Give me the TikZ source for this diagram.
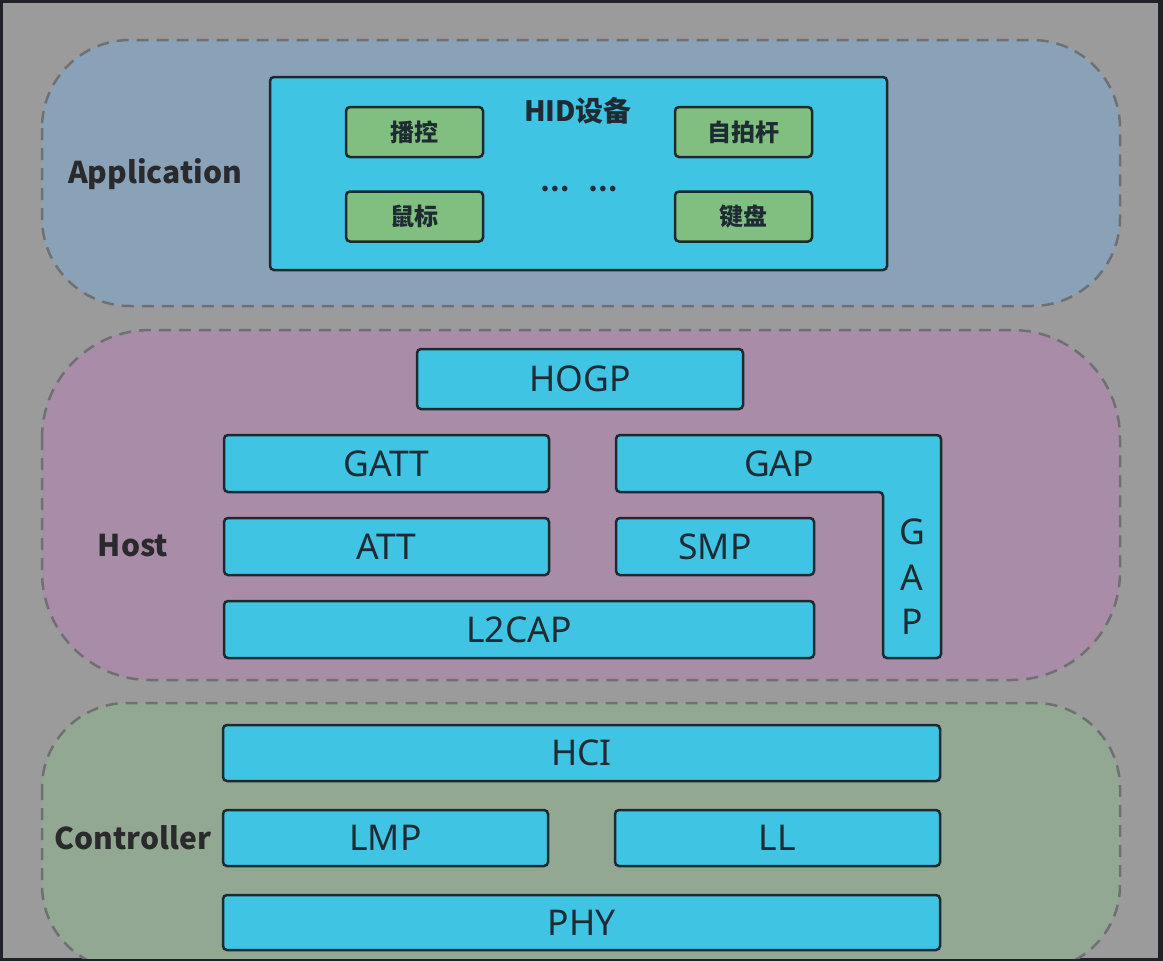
\documentclass[tikz,border=0pt]{standalone}
\usepackage{fontspec}
\setmainfont{Noto Sans}
\newfontfamily\cjk{Noto Sans CJK SC}
\definecolor{frame}{HTML}{1F2329}
\definecolor{bg}{HTML}{9B9B9B}
\definecolor{appc}{HTML}{8AA2B8}
\definecolor{hostc}{HTML}{A88CA8}
\definecolor{ctrlc}{HTML}{93A893}
\definecolor{dashc}{HTML}{6E7072}
\definecolor{cyanb}{HTML}{40C4E4}
\definecolor{edge}{HTML}{1C2A30}
\definecolor{greenb}{HTML}{80BF80}
\definecolor{txt}{HTML}{1F2B33}
\definecolor{lbl}{HTML}{2A2A2C}
\tikzset{
  region/.style={draw=dashc, line width=2.5pt, dash pattern=on 12pt off 8pt},
  blk/.style={draw=edge, line width=2.5pt, fill=cyanb, rounded corners=4pt, inner sep=0pt,
    text=txt, font=\fontsize{35.5}{40}\selectfont},
  gbox/.style={draw=edge, line width=2.5pt, fill=greenb, rounded corners=4pt, inner sep=0pt,
    minimum width=137pt, minimum height=50pt, text=txt, font=\cjk\bfseries\fontsize{24}{28}\selectfont},
  layerlbl/.style={text=lbl, font=\cjk\bfseries\fontsize{30}{36}\selectfont, inner sep=0pt},
  vlet/.style={text=txt, font=\fontsize{35.5}{40}\selectfont, inner sep=0pt}
}
\begin{document}
\begin{tikzpicture}[x=1pt,y=-1pt]
\useasboundingbox (0,0) rectangle (1163,961);
\fill[frame] (0,0) rectangle (1163,961);
\fill[bg] (3,3) rectangle (1158,958);
% regions
\begin{scope}
\clip (3,3) rectangle (1158,958);
\filldraw[region, fill=appc, rounded corners=88pt] (42,40) rectangle (1120,306);
\filldraw[region, fill=hostc, rounded corners=108pt] (42,330) rectangle (1120,680);
\filldraw[region, fill=ctrlc, rounded corners=85pt] (42,703) rectangle (1120,970);
\end{scope}
% layer labels
\node[layerlbl] (lapp) at (155,174) {Application};
\node[layerlbl] (lhost) at (133,546) {Host};
\node[layerlbl] (lctrl) at (133,838) {Controller};
% Application
\node[blk, minimum width=617pt, minimum height=193pt] (hid) at (578.5,173.5) {};
\node[text=txt, font=\cjk\bfseries\fontsize{28}{32}\selectfont, inner sep=0pt] (hidt) at (578,111) {HID设备};
\node[gbox] (bokong) at (414.5,132) {播控};
\node[gbox] (shubiao) at (414.5,216.5) {鼠标};
\node[gbox] (zipai) at (743.5,132) {自拍杆};
\node[gbox] (jianpan) at (743.5,216.5) {键盘};
\node[text=txt, font=\cjk\bfseries\fontsize{26}{30}\selectfont, inner sep=0pt] (dots) at (579,189) {…\hspace{0.7em}…};
% Host
\node[blk, minimum width=326pt, minimum height=60pt] (hogp) at (580,379) {HOGP};
\node[blk, minimum width=325pt, minimum height=57pt] (gatt) at (386.5,463.5) {GATT};
\filldraw[draw=edge, line width=2.5pt, fill=cyanb, rounded corners=4pt]
  (616,435) -- (941,435) -- (941,658) -- (883,658) -- (883,492) -- (616,492) -- cycle;
\node[vlet] (gapt) at (779,463.5) {GAP};
\node[vlet] (gapg) at (912,532) {G};
\node[vlet] (gapa) at (912,578) {A};
\node[vlet] (gapp) at (912,622) {P};
\node[blk, minimum width=325pt, minimum height=57pt] (att) at (386.5,546.5) {ATT};
\node[blk, minimum width=198pt, minimum height=57pt] (smp) at (715,546.5) {SMP};
\node[blk, minimum width=590pt, minimum height=57pt] (l2cap) at (519,629.5) {L2CAP};
% Controller
\node[blk, minimum width=717pt, minimum height=56pt] (hci) at (581.5,753) {HCI};
\node[blk, minimum width=325pt, minimum height=56pt] (lmp) at (385.5,838) {LMP};
\node[blk, minimum width=325pt, minimum height=56pt] (ll) at (777.5,838) {LL};
\node[blk, minimum width=717pt, minimum height=55pt] (phy) at (581.5,922.5) {PHY};
\end{tikzpicture}
\end{document}
